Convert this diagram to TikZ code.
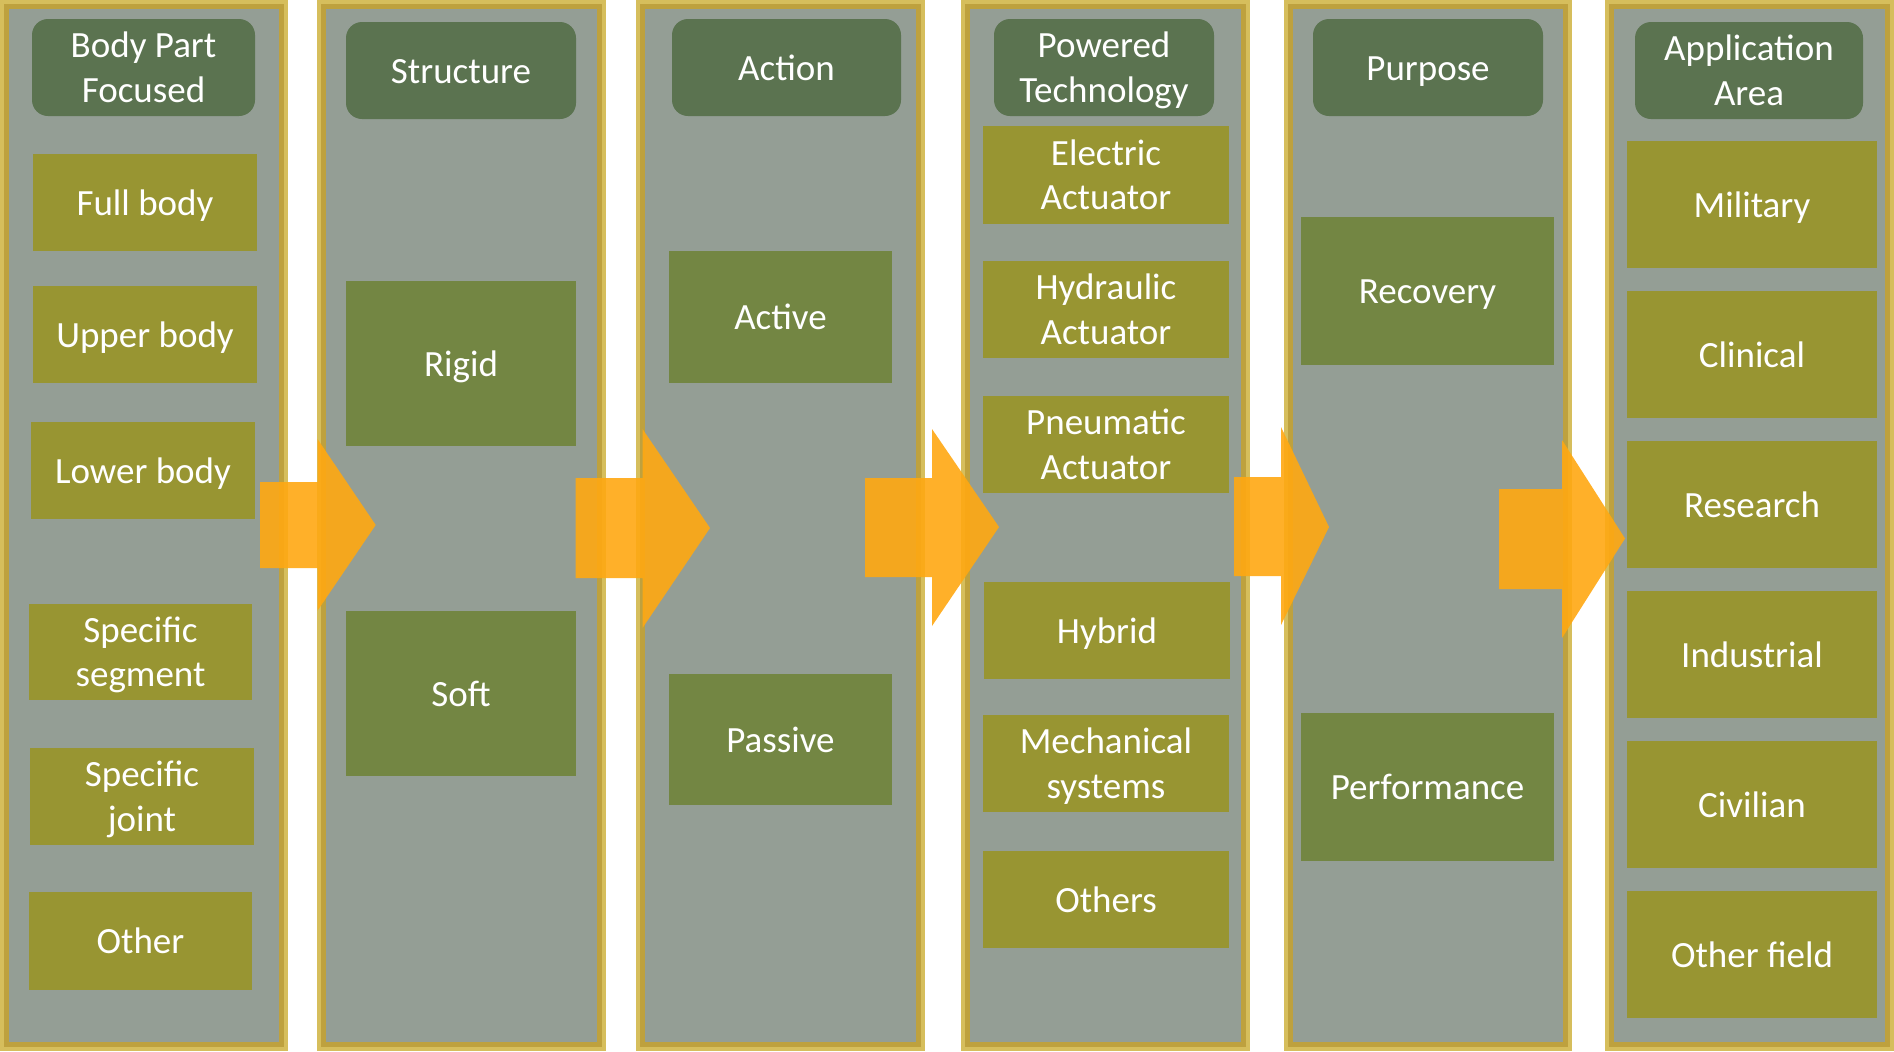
\documentclass[tikz,border=0pt]{standalone}
\usepackage{fontspec}
\setmainfont{Carlito}
\definecolor{colgray}{RGB}{148,158,149}
\definecolor{goldl}{RGB}{214,190,92}
\definecolor{goldd}{RGB}{190,161,62}
\definecolor{hdrc}{RGB}{91,115,80}
\definecolor{olivec}{RGB}{152,149,50}
\definecolor{greenc}{RGB}{115,134,67}
\definecolor{arrowc}{RGB}{255,168,18}
% line strut matching the font's line box
\newcommand\ls{\rule[-0.26em]{0pt}{1.205em}}
\tikzset{
  boxbase/.style={text=white, align=center, inner sep=0pt, outer sep=0pt,
    font=\fontsize{18.5pt}{22.3pt}\selectfont},
  hdr/.style={boxbase, fill=hdrc, rounded corners=8pt},
  itemo/.style={boxbase, fill=olivec},
  itemg/.style={boxbase, fill=greenc},
  blockarrow/.style={fill=arrowc, fill opacity=0.9},
}
% name, style, x1, y1, x2, y2, text (pixel coordinates)
\newcommand\bx[7]{%
  \pgfmathsetmacro\bxw{(#5-#3)*0.5}%
  \pgfmathsetmacro\bxh{(#6-#4)*0.5}%
  \node[#2, minimum width=\bxw pt, minimum height=\bxh pt] (#1) at ({(#3+#5)/2},{(#4+#6)/2}) {#7};%
}
% column frame: x1, x2
\newcommand\colm[2]{%
  \fill[goldl] (#1,0) rectangle (#2,1051);
  \fill[goldd] ({#1+4.4},4.4) rectangle ({#2-4.4},1046.6);
  \fill[colgray] ({#1+8.7},8.7) rectangle ({#2-8.7},1042.3);
}
% block arrow: x1, xbase, xtip, ry1, ry2, hy1, hy2, ytip
\newcommand\arr[8]{%
  \fill[blockarrow] (#1,#4) -- (#2,#4) -- (#2,#6) -- (#3,#8) -- (#2,#7) -- (#2,#5) -- (#1,#5) -- cycle;
}
\begin{document}
\begin{tikzpicture}[x=0.5pt, y=-0.5pt]
\useasboundingbox (0,0) rectangle (1894,1051);
\fill[white] (0,0) rectangle (1894,1051);
% columns
\colm{0}{288}
\colm{317}{606}
\colm{636}{925}
\colm{961}{1250}
\colm{1284}{1572}
\colm{1605}{1894}
% column 1
\bx{h1}{hdr}{32}{19}{255}{116}{\ls Body Part\\\ls Focused}
\bx{fullbody}{itemo}{33}{154}{257}{251}{\ls Full body}
\bx{upperbody}{itemo}{33}{286}{257}{383}{\ls Upper body}
\bx{lowerbody}{itemo}{31}{422}{255}{519}{\ls Lower body}
\bx{segment}{itemo}{29}{604}{252}{700}{\ls Specific\\\ls segment}
\bx{joint}{itemo}{30}{748}{254}{845}{\ls Specific\\\ls joint}
\bx{other}{itemo}{29}{892}{252}{990}{\ls Other}
% column 2
\bx{h2}{hdr}{346}{22}{576}{119}{\ls Structure}
\bx{rigid}{itemg}{346}{281}{576}{446}{\ls Rigid}
\bx{soft}{itemg}{346}{611}{576}{776}{\ls Soft}
% column 3
\bx{h3}{hdr}{672}{19}{901}{116}{\ls Action}
\bx{active}{itemg}{669}{251}{892}{383}{\ls Active}
\bx{passive}{itemg}{669}{674}{892}{805}{\ls Passive}
% column 4
\bx{h4}{hdr}{994}{19}{1214}{116}{\ls Powered\\\ls Technology}
\bx{electric}{itemo}{983}{126}{1229}{224}{\ls Electric\\\ls Actuator}
\bx{hydraulic}{itemo}{983}{261}{1229}{358}{\ls Hydraulic\\\ls Actuator}
\bx{pneumatic}{itemo}{983}{396}{1229}{493}{\ls Pneumatic\\\ls Actuator}
\bx{hybrid}{itemo}{984}{582}{1230}{679}{\ls Hybrid}
\bx{mechanical}{itemo}{983}{715}{1229}{812}{\ls Mechanical\\\ls systems}
\bx{others}{itemo}{983}{851}{1229}{948}{\ls Others}
% column 5
\bx{h5}{hdr}{1313}{19}{1543}{116}{\ls Purpose}
\bx{recovery}{itemg}{1301}{217}{1554}{365}{\ls Recovery}
\bx{performance}{itemg}{1301}{713}{1554}{861}{\ls Performance}
% column 6
\bx{h6}{hdr}{1635}{22}{1863}{119}{\ls Application\\\ls Area}
\bx{military}{itemo}{1627}{141}{1877}{268}{\ls Military}
\bx{clinical}{itemo}{1627}{291}{1877}{418}{\ls Clinical}
\bx{research}{itemo}{1627}{441}{1877}{568}{\ls Research}
\bx{industrial}{itemo}{1627}{591}{1877}{718}{\ls Industrial}
\bx{civilian}{itemo}{1627}{741}{1877}{868}{\ls Civilian}
\bx{otherfield}{itemo}{1627}{891}{1877}{1018}{\ls Other field}
% block arrows
\arr{260}{317.5}{375.7}{482}{568}{439}{610.7}{525}
\arr{575.5}{642.5}{710}{478}{578}{429}{628}{528}
\arr{865}{932}{999}{478}{577}{429}{626}{527}
\arr{1234}{1281}{1329}{477}{576}{427}{625}{527}
\arr{1499}{1562}{1625}{489}{589}{440}{638}{538.5}
\end{tikzpicture}
\end{document}
